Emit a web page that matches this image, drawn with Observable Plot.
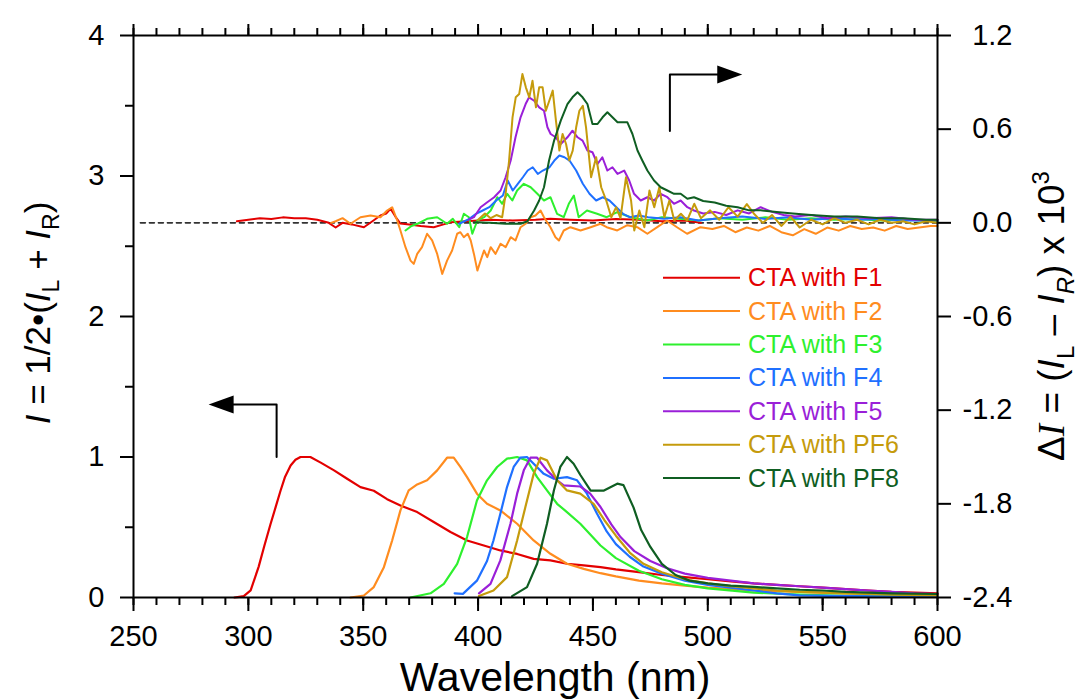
<!DOCTYPE html>
<html><head><meta charset="utf-8">
<script src="https://cdn.jsdelivr.net/npm/d3@7"></script>
<script src="https://cdn.jsdelivr.net/npm/@observablehq/plot@0.6"></script>
<style>body{margin:0;background:#fff;} svg{display:block}</style>
</head><body><div id="chart"></div>
<script>
// ---- series meta ----
const seriesNames = ["CTA with F1","CTA with F2","CTA with F3","CTA with F4","CTA with F5","CTA with PF6","CTA with PF8"];
const seriesColors = ["#e30000","#ff8c1f","#2ef02e","#1f70ff","#9a1fd8","#c59b0c","#0f5e22"];

// ---- axis ticks ----
const xMajorTicks = [250,300,350,400,450,500,550,600];
const xMinorTicks = [250,260,270,280,290,300,310,320,330,340,350,360,370,380,390,400,410,420,430,440,450,460,470,480,490,500,510,520,530,540,550,560,570,580,590,600];
const leftMajorTicks = [0,1,2,3,4];
const leftMinorTicks = [0.5,1.5,2.5,3.5];
const rightTicks = [1.2,0.6,0.0,-0.6,-1.2,-1.8,-2.4];
const rightDomain = [-2.4,1.2];

// ---- normalized emission I (left axis), [wavelength nm, I] ----
const emF1 = [[294,0],[296,0.005],[298,0.01],[301,0.05],[304.5,0.22],[307,0.37],[309.6,0.52],[312,0.65],[314,0.76],[316,0.86],[318.4,0.94],[320.5,0.98],[322.7,1.0],[327,1.0],[331.5,0.96],[337.3,0.905],[343,0.845],[348.8,0.786],[354.6,0.76],[360.4,0.70],[366.2,0.655],[373.5,0.608],[380.7,0.537],[388,0.466],[395.2,0.406],[402.5,0.37],[409.7,0.335],[417,0.31],[424.2,0.275],[431.5,0.264],[438.7,0.24],[446,0.228],[453.3,0.216],[460,0.20],[470,0.18],[480,0.16],[490,0.145],[500,0.13],[510,0.115],[520,0.10],[530,0.09],[540,0.08],[550,0.07],[560,0.06],[570,0.05],[580,0.04],[590,0.035],[600,0.03]];
const emF2 = [[344.5,0],[350.3,0.014],[354.6,0.074],[359,0.216],[362.6,0.406],[366.2,0.62],[369.8,0.762],[373.5,0.805],[377.8,0.834],[382.2,0.905],[386.5,0.995],[389.4,0.995],[392.3,0.929],[395.2,0.857],[399.5,0.739],[403.9,0.667],[409.7,0.62],[417,0.525],[424.2,0.406],[431.5,0.311],[438.7,0.24],[446,0.204],[453.3,0.173],[460,0.15],[470,0.12],[480,0.10],[490,0.085],[500,0.07],[520,0.05],[540,0.04],[560,0.03],[580,0.025],[600,0.02]];
const emF3 = [[370.6,0],[379.3,0.03],[385.1,0.097],[390.9,0.24],[395.2,0.43],[399.5,0.69],[403.9,0.834],[408.3,0.929],[412.6,0.988],[417,1.0],[421.3,0.976],[425.7,0.857],[430,0.762],[434.4,0.667],[438.7,0.608],[444.5,0.525],[453.3,0.37],[460,0.28],[470,0.19],[480,0.13],[490,0.09],[500,0.065],[520,0.035],[540,0.02],[560,0.012],[580,0.01],[600,0.01]];
const emF4 = [[389.8,0.03],[393.4,0.026],[399.5,0.12],[403.9,0.26],[406.7,0.406],[409.7,0.596],[412.6,0.786],[415.5,0.929],[418.4,0.995],[421.3,1.0],[424.2,0.952],[428.6,0.88],[433,0.845],[438.7,0.857],[443.1,0.834],[447.4,0.739],[451.8,0.596],[456,0.47],[460,0.38],[466,0.29],[472,0.22],[480,0.17],[490,0.12],[500,0.09],[510,0.07],[520,0.05],[530,0.03],[540,0.015],[560,0.01],[580,0.008],[600,0.005]];
const emF5 = [[400.4,0.03],[405.4,0.097],[409.7,0.264],[414.1,0.525],[417,0.739],[419.9,0.905],[422.8,0.995],[425.7,0.995],[430,0.905],[434.4,0.834],[437.3,0.798],[444.5,0.79],[448.8,0.739],[453.3,0.644],[458,0.52],[462,0.43],[468,0.33],[475,0.26],[482,0.21],[490,0.17],[500,0.14],[510,0.12],[520,0.10],[530,0.09],[540,0.08],[550,0.07],[560,0.06],[570,0.05],[580,0.04],[590,0.03],[600,0.025]];
const emPF6 = [[400.4,0.01],[406.7,0.05],[412.6,0.145],[417,0.406],[420.6,0.644],[424.2,0.88],[427.2,0.995],[430,0.976],[434.4,0.834],[438.7,0.762],[444.5,0.739],[450.3,0.667],[455,0.55],[460,0.44],[466,0.32],[472,0.24],[480,0.18],[490,0.13],[500,0.10],[510,0.08],[520,0.065],[530,0.05],[540,0.04],[560,0.03],[580,0.02],[600,0.015]];
const emPF8 = [[414.8,0.01],[421.3,0.074],[425.7,0.24],[430,0.525],[433,0.762],[435.8,0.929],[438.7,1.0],[441.6,0.952],[444.6,0.87],[449,0.76],[454.6,0.76],[460.6,0.81],[463.3,0.80],[467.7,0.64],[471,0.48],[475,0.36],[480,0.24],[486,0.16],[492,0.12],[500,0.10],[510,0.085],[520,0.075],[530,0.065],[540,0.055],[550,0.05],[560,0.04],[580,0.03],[600,0.025]];

// ---- dissymmetry ΔI x 10^3 (right axis), [wavelength nm, ΔI] ----
const cdF1 = [[295,0.01],[300,0.02],[305,0.03],[310,0.025],[315,0.035],[320,0.03],[325,0.03],[330,0.02],[335,0.0],[338,-0.03],[341,0.0],[345,-0.01],[350.3,-0.028],[354,0.01],[357.5,0.047],[360,0.06],[361.9,0.09],[364,0.04],[366.2,-0.005],[370,-0.01],[375,-0.02],[380.7,-0.028],[385,-0.01],[388,0.004],[395,0.01],[405,0.02],[415,0.015],[425,0.02],[431.5,0.026],[440,0.02],[450,0.015],[460,0.025],[470,0.02],[480,0.01],[490,0.015],[497,0.0]];
const cdF2 = [[336,0.0],[338,0.01],[341,0.03],[344.5,-0.006],[348.8,0.036],[353.2,0.047],[357.5,0.036],[360.4,0.079],[362.6,0.1],[364.8,0.015],[366.2,-0.049],[368.4,-0.156],[370.6,-0.242],[372,-0.263],[373.5,-0.199],[375.6,-0.156],[377.8,-0.07],[380,-0.113],[382.2,-0.199],[384.4,-0.327],[386.5,-0.242],[388.7,-0.177],[390.9,-0.07],[392.3,-0.06],[393.8,-0.092],[395.5,-0.07],[396.8,-0.113],[398.2,-0.199],[399.7,-0.306],[401.1,-0.242],[402.6,-0.177],[404,-0.22],[405.5,-0.156],[407.6,-0.199],[409.8,-0.134],[412,-0.156],[414.2,-0.092],[416.3,-0.113],[418.5,-0.028],[420.7,-0.006],[422.9,0.036],[425,0.047],[427.2,0.079],[428.7,0.036],[431.5,-0.028],[433.7,-0.092],[435.2,-0.113],[437.3,-0.049],[440.2,-0.028],[444.6,-0.049],[449,-0.028],[453.3,-0.006],[456,-0.028],[460.6,-0.049],[465,-0.015],[469.3,-0.028],[473.7,-0.07],[478,-0.028],[482.3,0.015],[486.6,-0.028],[491,-0.07],[496.8,-0.028],[502,-0.04],[507,-0.02],[512,-0.06],[517,-0.03],[522,-0.05],[527,-0.02],[532,-0.06],[537,-0.08],[542,-0.04],[547,-0.07],[552,-0.03],[557,-0.05],[562,-0.02],[567,-0.04],[572,-0.03],[577,-0.05],[582,-0.02],[587,-0.04],[592,-0.03],[597,-0.02],[600,-0.02]];
const cdF3 = [[368.4,-0.049],[371,-0.02],[373.5,-0.006],[377.8,0.026],[382.2,0.036],[386.5,-0.006],[389,0.026],[391.8,-0.028],[393.8,0.058],[396,0.036],[397.5,-0.07],[399.7,0.015],[402.6,0.036],[405.5,0.079],[408.4,0.164],[410.5,0.122],[412.7,0.186],[414.9,0.143],[417,0.207],[419.9,0.25],[422.9,0.228],[425.8,0.186],[428.7,0.143],[431.5,0.164],[434.4,0.058],[437.3,0.036],[439.5,0.122],[441.7,0.175],[443.8,0.036],[447.4,0.079],[451.8,0.058],[456,0.036],[460.6,0.068],[466.4,0.036],[473.7,0.015],[480,0.036],[488,0.026],[496,0.015],[505,0.03],[515,0.02],[525,0.035],[535,0.02],[545,0.03],[555,0.02],[565,0.025],[575,0.015],[585,0.02],[600,0.01]];
const cdF4 = [[391.8,-0.006],[396.2,0.026],[399.1,0.058],[402,0.079],[404.9,0.1],[407.9,0.143],[410.8,0.175],[412.9,0.271],[415.1,0.207],[417.3,0.25],[419.5,0.292],[421.6,0.335],[423.8,0.356],[426,0.313],[428.2,0.335],[431.1,0.356],[433.2,0.399],[435.4,0.431],[437.6,0.42],[439.8,0.399],[442.7,0.335],[445.6,0.25],[448.5,0.186],[451.4,0.143],[454.3,0.164],[457.2,0.143],[460.2,0.1],[463.1,0.058],[466,0.036],[470,0.047],[474,0.036],[481,0.026],[488,0.036],[496,0.015],[505,0.03],[515,0.04],[525,0.025],[535,0.035],[545,0.02],[555,0.03],[565,0.02],[575,0.025],[585,0.015],[600,0.015]];
const cdF5 = [[396,0.02],[398.2,0.036],[401.1,0.1],[404,0.132],[407,0.164],[409.8,0.207],[412,0.292],[414.2,0.399],[416.3,0.548],[418.5,0.676],[420.7,0.761],[422.2,0.804],[424.4,0.782],[426.6,0.74],[428.7,0.718],[430.2,0.612],[431.6,0.569],[433.8,0.548],[436,0.505],[438.9,0.548],[441.1,0.59],[443.3,0.548],[445.5,0.527],[447.6,0.463],[449.8,0.452],[452,0.377],[454.1,0.42],[456.3,0.335],[458.5,0.356],[460.7,0.313],[463.6,0.335],[465.8,0.271],[467.9,0.186],[470.8,0.143],[473.7,0.164],[476.6,0.143],[479.5,0.186],[482.4,0.164],[485.3,0.122],[488.2,0.143],[491.1,0.1],[494,0.079],[498,0.06],[503,0.07],[508,0.05],[513,0.08],[518,0.06],[523,0.1],[528,0.07],[533,0.05],[538,0.04],[545,0.05],[552,0.03],[560,0.04],[570,0.03],[580,0.035],[590,0.02],[600,0.02]];
const cdPF6 = [[400,0.02],[403,0.06],[405.5,0.03],[408,0.05],[410.5,0.036],[412,0.186],[413.5,0.399],[415,0.676],[416.4,0.804],[417.9,0.825],[419.3,0.953],[420.8,0.868],[422.3,0.804],[423.7,0.91],[425.2,0.74],[426.6,0.868],[428.1,0.868],[429.5,0.718],[431,0.782],[432.5,0.847],[433.9,0.655],[435.4,0.463],[436.8,0.569],[438.3,0.505],[439.7,0.399],[441.2,0.463],[442.7,0.612],[444.1,0.718],[445.6,0.75],[447,0.612],[449.2,0.292],[451.4,0.42],[453.6,0.228],[455.8,0.143],[458,0.036],[460.1,0.1],[462,0.03],[464.4,0.292],[466.6,0.143],[468,-0.049],[470.2,0.079],[472.4,-0.028],[474.6,0.207],[476.7,0.1],[478.9,0.228],[481.1,0.036],[483.3,0.143],[485.4,0.015],[488.3,0.058],[491,0.015],[494.1,0.122],[497,0.03],[501,0.08],[505,0.02],[509,0.1],[513,0.04],[517,0.12],[520,0.06],[524,0.0],[528,0.05],[532,-0.02],[536,0.04],[540,-0.03],[545,0.02],[550,-0.01],[555,0.03],[560,0.0],[565,0.02],[570,-0.01],[575,0.02],[580,0.0],[585,0.01],[590,-0.01],[595,0.01],[600,0.0]];
const cdPF8 = [[398.2,0.004],[405,0.0],[412,-0.006],[418.5,-0.006],[421.5,0.01],[424.4,0.079],[426.6,0.143],[428.7,0.228],[430.9,0.399],[433.1,0.527],[436,0.655],[438.9,0.761],[441.1,0.804],[443.3,0.836],[445.5,0.804],[447.6,0.761],[449.8,0.633],[452,0.633],[454.2,0.676],[456.3,0.708],[458.5,0.676],[460.7,0.644],[462.8,0.644],[465,0.644],[467.2,0.569],[469.4,0.463],[471.5,0.399],[473.7,0.335],[476.6,0.271],[479.5,0.228],[482.4,0.207],[485.3,0.186],[488.2,0.186],[491.1,0.154],[494,0.164],[498,0.14],[503,0.13],[508,0.11],[513,0.1],[518,0.08],[523,0.08],[530,0.07],[537,0.06],[545,0.05],[555,0.04],[565,0.04],[575,0.03],[585,0.03],[595,0.02],[600,0.02]];

// zero line of ΔI (right axis units)
const zeroLine = [[253,0],[600,0]];
// annotation arrows (left axis units): elbow paths and arrow tips
const arrowLeftPath = [[312.3,1.0],[312.3,1.374],[292,1.374]];
const arrowLeftTip = [[282.7,1.374]];
const arrowRightPath = [[483.5,3.32],[483.5,3.722],[506,3.722]];
const arrowRightTip = [[515,3.722]];

const emission = [emF1,emF2,emF3,emF4,emF5,emPF6,emPF8];
const dichroism = [cdF1,cdF2,cdF3,cdF4,cdF5,cdPF6,cdPF8];

// right axis values mapped to left axis units
const toLeft = v => (v - rightDomain[0]) * 4 / (rightDomain[1] - rightDomain[0]);
const toRight = y => y * (rightDomain[1] - rightDomain[0]) / 4 + rightDomain[0];

const arrowHead = {draw(ctx) { ctx.moveTo(0,0); ctx.lineTo(-25,-9); ctx.lineTo(-25,9); ctx.closePath(); }};

const font = "Liberation Sans, Arial, Helvetica, sans-serif";

const plot = Plot.plot({
  width: 1090, height: 700,
  marginLeft: 133, marginRight: 153, marginTop: 35, marginBottom: 103,
  style: {fontFamily: font, background: "white", color: "black"},
  x: {domain: [250, 600]},
  y: {domain: [0, 4]},
  marks: [
    Plot.line(zeroLine, {x: d => d[0], y: d => toLeft(d[1]), stroke: "#333", strokeWidth: 1.6, strokeDasharray: "5,4"}),
    ...dichroism.map((arr, i) => Plot.line(arr, {x: d => d[0], y: d => toLeft(d[1]), stroke: seriesColors[i], strokeWidth: 2})),
    ...emission.map((arr, i) => Plot.line(arr, {x: d => d[0], y: d => d[1], stroke: seriesColors[i], strokeWidth: 2.2})),
    Plot.line(arrowLeftPath, {x: d => d[0], y: d => d[1], stroke: "black", strokeWidth: 2}),
    Plot.line(arrowRightPath, {x: d => d[0], y: d => d[1], stroke: "black", strokeWidth: 2}),
    Plot.dot(arrowLeftTip, {x: d => d[0], y: d => d[1], symbol: arrowHead, rotate: 180, fill: "black", stroke: null, r: 5}),
    Plot.dot(arrowRightTip, {x: d => d[0], y: d => d[1], symbol: arrowHead, rotate: 0, fill: "black", stroke: null, r: 5}),
    Plot.frame({stroke: "black", strokeWidth: 2}),
    Plot.axisX({anchor: "bottom", ticks: xMajorTicks, tickSize: 14, tickPadding: 14, fontSize: 29, label: null, strokeWidth: 2, tickFormat: d => String(d)}),
    Plot.axisX({anchor: "bottom", ticks: xMinorTicks, tickSize: 8, text: null, label: null, strokeWidth: 2}),
    Plot.axisX({anchor: "top", ticks: xMajorTicks, tickSize: 12, text: null, label: null, strokeWidth: 2}),
    Plot.axisX({anchor: "top", ticks: xMinorTicks, tickSize: 8, text: null, label: null, strokeWidth: 2}),
    Plot.axisY({anchor: "left", ticks: leftMajorTicks, tickSize: 13, tickPadding: 16, fontSize: 29, label: null, strokeWidth: 2, tickFormat: d => String(d)}),
    Plot.axisY({anchor: "left", ticks: leftMinorTicks, tickSize: 8, text: null, label: null, strokeWidth: 2}),
    Plot.axisY({anchor: "right", ticks: rightTicks.map(toLeft), tickSize: 13, tickPadding: 62, textAnchor: "end", fontSize: 29, label: null, strokeWidth: 2,
      tickFormat: y => { const v = toRight(y); return Math.abs(v) < 1e-9 ? "0.0" : v.toFixed(1); }})
  ]
});

document.getElementById("chart").appendChild(plot);
const svg = d3.select(plot);

// x axis title
svg.append("text").attr("x", 555).attr("y", 691).attr("text-anchor", "middle")
  .attr("font-family", font).attr("font-size", 41).attr("fill", "black").text("Wavelength (nm)");

// left y title
const lt = svg.append("text").attr("transform", "translate(50,313) rotate(-90)").attr("text-anchor", "middle")
  .attr("font-family", font).attr("font-size", 35).attr("fill", "black");
lt.append("tspan").attr("font-style", "italic").text("I");
lt.append("tspan").text(" = 1/2•(");
lt.append("tspan").attr("font-style", "italic").text("I");
lt.append("tspan").attr("font-size", 23).attr("dy", 9).text("L");
lt.append("tspan").attr("dy", -9).text(" + ");
lt.append("tspan").attr("font-style", "italic").text("I");
lt.append("tspan").attr("font-size", 23).attr("dy", 9).text("R");
lt.append("tspan").attr("dy", -9).text(")");

// right y title
const rt = svg.append("text").attr("transform", "translate(1064,316) rotate(-90)").attr("text-anchor", "middle")
  .attr("font-family", font).attr("font-size", 37).attr("fill", "black");
rt.append("tspan").text("Δ");
rt.append("tspan").attr("font-family", "Liberation Serif, Times New Roman, serif").attr("font-style", "italic").text("I");
rt.append("tspan").text(" = (");
rt.append("tspan").attr("font-style", "italic").text("I");
rt.append("tspan").attr("font-size", 24).attr("dy", 10).text("L");
rt.append("tspan").attr("dy", -10).text(" – ");
rt.append("tspan").attr("font-style", "italic").text("I");
rt.append("tspan").attr("font-size", 24).attr("font-style", "italic").attr("dy", 10).text("R");
rt.append("tspan").attr("dy", -10).text(") x 10");
rt.append("tspan").attr("font-size", 24).attr("dy", -15).text("3");

// legend
const lg = svg.append("g");
seriesNames.forEach((name, i) => {
  const y = 277.7 + i * 33.4;
  lg.append("line").attr("x1", 663).attr("x2", 740).attr("y1", y).attr("y2", y)
    .attr("stroke", seriesColors[i]).attr("stroke-width", 2);
  lg.append("text").attr("x", 748).attr("y", y + 8.5).attr("text-anchor", "start").attr("font-family", font).attr("font-size", 25)
    .attr("fill", seriesColors[i]).text(name);
});
</script>
</body></html>
